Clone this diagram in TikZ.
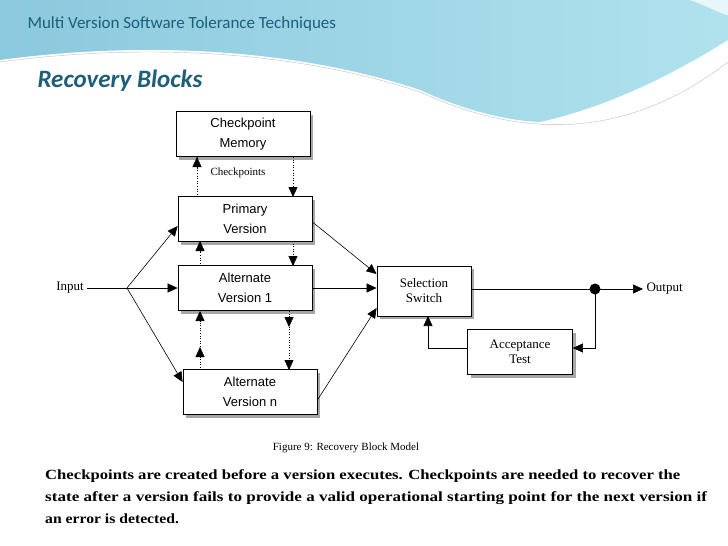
\documentclass[tikz,border=0pt]{standalone}
\usepackage{fontspec}
\setmainfont{Liberation Serif}
\newfontfamily\sansf{Liberation Sans}
\newfontfamily\calib{Carlito}
\usetikzlibrary{arrows.meta,decorations.markings,shadows}
\definecolor{teal1}{HTML}{1D5F78}
\definecolor{sky}{HTML}{8FD6E6}
\definecolor{skyd}{HTML}{6EBBD6}
\begin{document}
\begin{tikzpicture}[x=1pt,y=-1pt,
  box/.style={draw,thick,fill=white,minimum width=134pt,minimum height=45pt,align=center,font=\sansf\fontsize{13}{20}\selectfont,
    drop shadow={shadow xshift=3pt,shadow yshift=-3pt,fill=gray!70,opacity=1}},
  sbox/.style={box,font=\fontsize{13}{15}\selectfont},
  arr/.style={-{Triangle[length=10pt,width=9pt]},semithick},
  dot/.style={dotted,semithick},
  tip/.style={-{Triangle[length=10pt,width=9pt]}}]
\useasboundingbox (0,0) rectangle (728,546);
\fill[white] (0,0) rectangle (728,546);
% header
\shade[left color=skyd!80,right color=sky!70] (0,0) -- (728,0) -- (728,40) .. controls (600,120) and (500,140) .. (400,130) .. controls (250,115) and (100,130) .. (0,200) -- cycle;
\fill[white] (0,60) .. controls (150,40) and (300,50) .. (420,90) .. controls (550,150) and (650,120) .. (728,60) -- (728,546) -- (0,546) -- cycle;
\fill[white,opacity=0.7] (690,0) .. controls (720,10) and (740,30) .. (800,20) -- (760,0) -- cycle;
\draw[gray!50,thin] (0,62) .. controls (150,42) and (300,52) .. (420,92) .. controls (550,152) and (650,122) .. (728,62);
\node[anchor=west,text=teal1,font=\calib\fontsize{17}{19}\selectfont] (title) at (24,24) {Multi Version Software Tolerance Techniques};
\node[anchor=west,text=teal1,font=\calib\bfseries\itshape\fontsize{25}{28}\selectfont] (sub) at (34,81) {Recovery Blocks};
% diagram
\node[box] (cm) at (243,134) {Checkpoint\\Memory};
\node[box] (pv) at (245,219) {Primary\\Version};
\node[box] (a1) at (245,288) {Alternate\\Version 1};
\node[box] (an) at (250,392) {Alternate\\Version n};
\node[sbox,minimum width=94pt,minimum height=50pt] (ss) at (424,291) {Selection\\Switch};
\node[sbox,minimum width=105pt,minimum height=45pt] (at) at (520,352) {Acceptance\\Test};
\node[font=\fontsize{13}{14}\selectfont] (in) at (70,288) {Input};
\node[font=\fontsize{13}{14}\selectfont,anchor=west] (out) at (643,289) {Output};
\coordinate (sp) at (127,288);
\fill (595,289) circle (5.5pt) coordinate (dt);
% inputs
\draw[semithick] (in.east) -- (sp);
\draw[arr] (sp) -- (pv.west|-0,226);
\draw[arr] (sp) -- (a1.west);
\draw[arr] (sp) -- (an.west|-0,382);
% outputs to switch
\draw[arr] (pv.east|-0,222) -- (ss.north west|-0,274);
\draw[arr] (a1.east) -- (ss.west|-0,288);
\draw[arr] (an.east|-0,400) -- (ss.south west|-0,308);
\draw[semithick] (ss.east|-dt) -- (dt);
\draw[arr] (dt) -- (out.west);
\draw[arr] (dt) -- (595,348) -- (at.east|-0,348);
\draw[arr] (at.west|-0,348) -- (428,348) -- (428,316);
% dotted checkpoint arrows
\draw[dot] (197,197) -- (197,157); \draw[tip] (197,167) -- (197,157);
\draw[dot] (293,157) -- (293,197); \draw[tip] (293,187) -- (293,197);
\node[font=\fontsize{11}{12}\selectfont] (ck) at (238,173) {Checkpoints};
\draw[dot] (293,241) -- (293,266); \draw[tip] (293,256) -- (293,266);
\draw[dot] (200,266) -- (200,241); \draw[tip] (200,251) -- (200,241);
\draw[dot] (289,311) -- (289,370); \draw[tip] (289,317) -- (289,327); \draw[tip] (289,360) -- (289,370);
\draw[dot] (200,370) -- (200,311); \draw[tip] (200,357) -- (200,347); \draw[tip] (200,321) -- (200,311);
\node[font=\fontsize{11}{12}\selectfont] (cap) at (346,448) {Figure 9: Recovery Block Model};
% text
\begin{scope}[every node/.style={anchor=west,font=\bfseries\fontsize{14}{16}\selectfont,inner sep=0pt}]
\node (t1) at (45,476) {\scalebox{1.19}[1]{Checkpoints are created before a version executes. Checkpoints are needed to recover the}};
\node (t2) at (45,498) {\scalebox{1.22}[1]{state after a version fails to provide a valid operational starting point for the next version if}};
\node (t3) at (45,519) {\scalebox{1.12}[1]{an error is detected.}};
\end{scope}
\end{tikzpicture}
\end{document}
